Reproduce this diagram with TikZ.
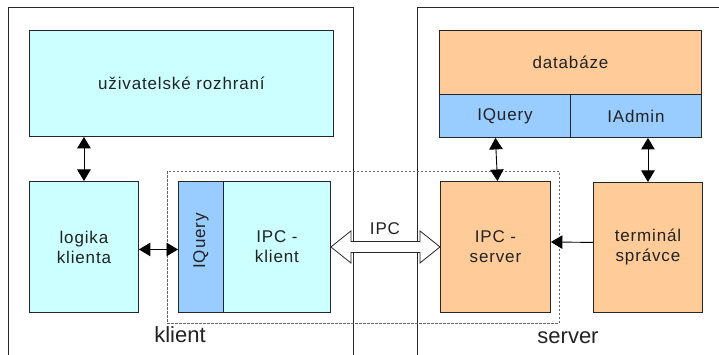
\documentclass[tikz,border=0pt]{standalone}
\usepackage{fontspec}
\setmainfont{Liberation Sans}
\newfontfamily\boxfont[LetterSpace=5]{Liberation Sans}
\usetikzlibrary{arrows.meta,calc}
\definecolor{cyanbox}{HTML}{CCFFFF}
\definecolor{orangebox}{HTML}{FFCC99}
\definecolor{bluebox}{HTML}{99CCFF}
\definecolor{txt}{HTML}{222222}
\begin{document}
\begin{tikzpicture}[x=1pt,y=-1pt,
 box/.style={draw=black!85, line width=0.9pt, anchor=north west, inner sep=0pt, align=center, text=txt, font=\boxfont\fontsize{17}{20}\selectfont},
 dbl/.style={{Triangle[width=13.5pt,length=11.5pt]}-{Triangle[width=13.5pt,length=11.5pt]}, line width=0.9pt},
 sgl/.style={-{Triangle[width=13.5pt,length=11.5pt]}, line width=0.9pt},
 frame/.style={draw=black!85, line width=0.9pt},
 lbl/.style={font=\fontsize{22}{26}\selectfont, text=txt},
 dashbox/.style={draw=black!60, line width=0.8pt, dash pattern=on 2.5pt off 1.5pt, anchor=north west, inner sep=0pt}
]
\useasboundingbox (0,0) rectangle (719,355);
% outer frames
\draw[frame] (8,360) -- (8,7) -- (353,7) -- (353,360);
\draw[frame] (417,360) -- (417,7) -- (725,7);
% dashed region
\node[dashbox, minimum width=392pt, minimum height=152pt] (ipcarea) at (167,171) {};
% client side
\node[box, fill=cyanbox, minimum width=304pt, minimum height=106pt] (ui) at (29,30) {uživatelské rozhraní};
\node[box, fill=cyanbox, minimum width=109pt, minimum height=131pt] (logika) at (29,181) {logika\\klienta};
\node[box, fill=bluebox, minimum width=45pt, minimum height=131pt] (iq1) at (178,181) {};
\node[text=txt, font=\boxfont\fontsize{17}{20}\selectfont, rotate=90] (iq1t) at ($(iq1.center)+(0,-6)$) {IQuery};
\node[box, fill=cyanbox, minimum width=107pt, minimum height=131pt] (ipck) at (223,181) {IPC -\\klient};
% server side
\node[box, fill=orangebox, minimum width=262pt, minimum height=64pt] (db) at (439,30) {databáze};
\node[box, fill=bluebox, minimum width=131pt, minimum height=43pt] (iq2) at (439,94) {IQuery};
\node[box, fill=bluebox, minimum width=131pt, minimum height=43pt] (iadm) at (570,94) {IAdmin};
\node[box, fill=orangebox, minimum width=110pt, minimum height=131pt] (ipcs) at (440,181) {IPC -\\server};
\node[box, fill=orangebox, minimum width=109pt, minimum height=130pt] (term) at (593,182) {terminál\\správce};
% labels
\node[lbl] (klient) at (180,335) {klient};
\node[lbl] (server) at (568,338) {server};
\node[text=txt, font=\boxfont\fontsize{17}{20}\selectfont] (ipcl) at (385,229) {IPC};
% connectors
\draw[dbl] (logika.north |- ui.south) -- (logika.north);
\draw[dbl] ([yshift=-2.5pt]logika.east) -- ([yshift=-2.5pt]iq1.west);
\draw[dbl] (ipcs.north |- iq2.south) -- ([xshift=2pt]ipcs.north);
\draw[dbl] (term.north |- iadm.south) -- (term.north);
\draw[sgl] ([yshift=5pt]term.west) -- ([yshift=5pt]ipcs.east);
% hollow IPC double arrow
\draw[fill=white, draw=black!85, line width=0.8pt]
  (ipck.east) -- ($(ipck.east)+(20,-16)$) -- ($(ipck.east)+(20,-5.5)$)
  -- ($(ipcs.west)+(-20,-5.5)$) -- ($(ipcs.west)+(-20,-16)$) -- (ipcs.west)
  -- ($(ipcs.west)+(-20,16)$) -- ($(ipcs.west)+(-20,5.5)$)
  -- ($(ipck.east)+(20,5.5)$) -- ($(ipck.east)+(20,16)$) -- cycle;
\end{tikzpicture}
\end{document}
